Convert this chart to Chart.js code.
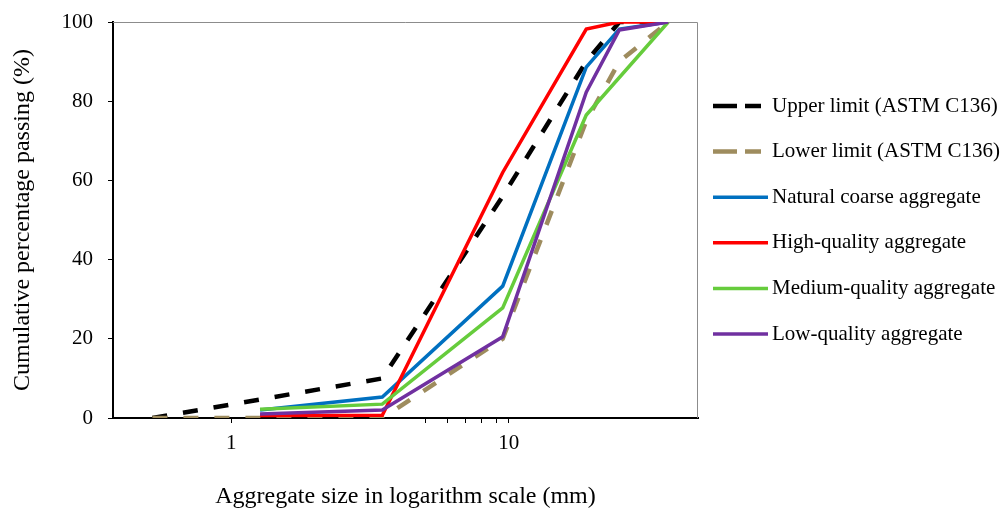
<!DOCTYPE html>
<html>
<head>
<meta charset="utf-8">
<script src="https://cdn.jsdelivr.net/npm/chart.js@4/dist/chart.umd.min.js"></script>
<style>
  body { margin: 0; background: #fff; }
</style>
</head>
<body>
<canvas id="grading" width="1003" height="515"></canvas>
<script>
// sieve sizes (mm)
var sieveSize = [0.52, 1.27, 3.5, 9.5, 19, 25, 37.5];

// cumulative passing (%), null where a series has no point
var upperLimit = [0, null, 10, 56, 90, 100, 100];
var lowerLimit = [0, 0, 0, 20, 75, 90, 100];
var naturalAgg = [null, 2.0, 5.3, 33.3, 88.6, 98.2, 100];
var highAgg    = [null, 0.6, 0.7, 62, 98.2, 100, 100];
var mediumAgg  = [null, 2.2, 3.5, 27.8, 76.5, null, 100];
var lowAgg     = [null, 1.0, 2.0, 20.5, 82.3, 98, 100];

var xTicks = [1, 5, 6, 7, 8, 9, 10];
var xLabels = [1, 10];
var serif = '"Liberation Serif", "Times New Roman", serif';

function pts(arr) {
  var out = [];
  for (var i = 0; i < arr.length; i++) {
    if (arr[i] !== null) out.push({x: sieveSize[i], y: arr[i]});
  }
  return out;
}

function series(label, arr, color, dashed, order) {
  return {
    label: label,
    data: pts(arr),
    borderColor: color,
    backgroundColor: color,
    borderWidth: dashed ? 4.5 : 3.5,
    borderDash: dashed ? [15, 16] : undefined,
    pointRadius: 0,
    tension: 0,
    fill: false,
    order: order
  };
}

// legend at the right, line sample + label
var sideLegend = {
  id: 'sideLegend',
  afterDraw: function(chart) {
    var ctx = chart.ctx;
    var x0 = chart.chartArea.right + 15;
    chart.data.datasets.forEach(function(ds, i) {
      var y = 106 + i * 45.6;
      ctx.save();
      ctx.strokeStyle = ds.borderColor;
      ctx.lineWidth = ds.borderDash ? 4.5 : 3.5;
      ctx.setLineDash(ds.borderDash ? [24, 8] : []);
      ctx.beginPath();
      ctx.moveTo(x0, y);
      ctx.lineTo(x0 + (ds.borderDash ? 48 : 55), y);
      ctx.stroke();
      ctx.fillStyle = '#000';
      ctx.font = '21px ' + serif;
      ctx.textBaseline = 'middle';
      ctx.fillText(ds.label, x0 + 59, y);
      ctx.restore();
    });
  }
};

// thin grey top/right edges of the plot box
var plotFrame = {
  id: 'plotFrame',
  beforeDatasetsDraw: function(chart) {
    var a = chart.chartArea, ctx = chart.ctx;
    ctx.save();
    ctx.strokeStyle = '#8c8c8c';
    ctx.lineWidth = 1;
    ctx.beginPath();
    ctx.moveTo(a.left, a.top + 0.5);
    ctx.lineTo(a.right - 0.5, a.top + 0.5);
    ctx.lineTo(a.right - 0.5, a.bottom);
    ctx.stroke();
    ctx.restore();
  }
};

new Chart(document.getElementById('grading'), {
  type: 'line',
  data: {
    datasets: [
      series('Upper limit (ASTM C136)', upperLimit, '#000000', true, 6),
      series('Lower limit (ASTM C136)', lowerLimit, '#9e8c5e', true, 5),
      series('Natural coarse aggregate', naturalAgg, '#0070c0', false, 4),
      series('High-quality aggregate', highAgg, '#ff0000', false, 3),
      series('Medium-quality aggregate', mediumAgg, '#66cc3c', false, 2),
      series('Low-quality aggregate', lowAgg, '#7030a0', false, 1)
    ]
  },
  options: {
    responsive: false,
    animation: false,
    spanGaps: true,
    layout: { padding: { top: 22, right: 305, left: 8, bottom: 0 } },
    plugins: {
      legend: { display: false },
      tooltip: { enabled: false }
    },
    scales: {
      x: {
        type: 'logarithmic',
        min: 0.375,
        max: 48,
        afterBuildTicks: function(scale) {
          scale.ticks = xTicks.map(function(v) { return {value: v}; });
        },
        afterFit: function(scale) {
          scale.height = 97;
          scale.paddingLeft = 0;
          scale.paddingRight = 0;
        },
        ticks: {
          autoSkip: false,
          maxRotation: 0,
          padding: 8,
          color: '#000',
          font: { family: serif, size: 21 },
          callback: function(v) { return xLabels.indexOf(v) >= 0 ? String(v) : ''; }
        },
        grid: { drawOnChartArea: false, drawTicks: true, tickLength: 5, color: '#000' },
        border: { display: true, color: '#000', width: 2 },
        title: {
          display: true,
          text: 'Aggregate size in logarithm scale (mm)',
          color: '#000',
          font: { family: serif, size: 24 },
          padding: { top: 0, bottom: 4 }
        }
      },
      y: {
        min: 0,
        max: 100,
        afterFit: function(scale) {
          scale.width = 105;
          scale.paddingTop = 0;
          scale.paddingBottom = 0;
        },
        ticks: {
          stepSize: 20,
          padding: 15,
          color: '#000',
          font: { family: serif, size: 21 }
        },
        grid: { drawOnChartArea: false, drawTicks: true, tickLength: 5, color: '#000' },
        border: { display: true, color: '#000', width: 2 },
        title: {
          display: true,
          text: 'Cumulative percentage passing (%)',
          color: '#000',
          font: { family: serif, size: 24 },
          padding: { top: 0, bottom: 0 }
        }
      }
    }
  },
  plugins: [sideLegend, plotFrame]
});
</script>
</body>
</html>
